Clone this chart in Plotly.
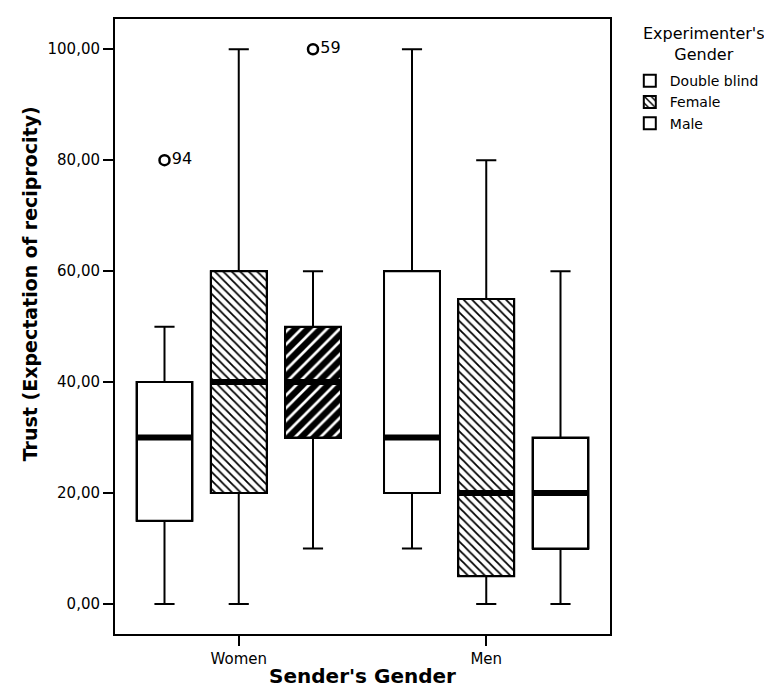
import plotly.graph_objects as go

# ---------------- data ----------------
categories = ["Women", "Men"]
series = ["Double blind", "Female", "Male"]

db_q1 = [15, 20]
db_median = [30, 30]
db_q3 = [40, 60]
db_low = [0, 10]
db_high = [50, 100]

fe_q1 = [20, 5]
fe_median = [40, 20]
fe_q3 = [60, 55]
fe_low = [0, 0]
fe_high = [100, 80]

ma_q1 = [30, 10]
ma_median = [40, 20]
ma_q3 = [50, 30]
ma_low = [10, 0]
ma_high = [60, 60]

outlier_series = ["Double blind", "Male"]
outlier_category = ["Women", "Women"]
outlier_value = [80, 100]
outlier_label = ["94", "59"]

y_tick_values = [0, 20, 40, 60, 80, 100]
y_tick_labels = ["0,00", "20,00", "40,00", "60,00", "80,00", "100,00"]

# ---------------- layout helpers ----------------
FONT = "DejaVu Sans, Liberation Sans, Arial, sans-serif"
offset = {"Double blind": -0.3, "Female": 0.0, "Male": 0.3}
box_w = 0.226
cat_index = {c: i for i, c in enumerate(categories)}

stats = {
    "Double blind": (db_q1, db_median, db_q3, db_low, db_high),
    "Female": (fe_q1, fe_median, fe_q3, fe_low, fe_high),
    "Male": (ma_q1, ma_median, ma_q3, ma_low, ma_high),
}

def xs(s):
    return [cat_index[c] + offset[s] for c in categories]

fig = go.Figure()

# fills (bars underneath boxes)
q1, med, q3, lo, hi = stats["Double blind"]
fig.add_trace(go.Bar(
    x=xs("Double blind"), base=q1, y=[b - a for a, b in zip(q1, q3)], width=box_w,
    name="Double blind", marker=dict(color="white", line=dict(color="black", width=2)),
    showlegend=True, hoverinfo="skip"))
q1, med, q3, lo, hi = stats["Female"]
fig.add_trace(go.Bar(
    x=xs("Female"), base=q1, y=[b - a for a, b in zip(q1, q3)], width=box_w,
    name="Female",
    marker=dict(color="white", line=dict(color="black", width=2),
                pattern=dict(shape="\\", fgcolor="black", bgcolor="white",
                             size=6, solidity=0.3, fillmode="replace")),
    showlegend=True, hoverinfo="skip"))
q1, med, q3, lo, hi = stats["Male"]
mx = xs("Male")
fig.add_trace(go.Bar(
    x=[mx[1]], base=[q1[1]], y=[q3[1] - q1[1]], width=box_w,
    name="Male", marker=dict(color="white", line=dict(color="black", width=2)),
    showlegend=True, hoverinfo="skip"))
fig.add_trace(go.Bar(
    x=[mx[0]], base=[q1[0]], y=[q3[0] - q1[0]], width=box_w,
    name="Male", marker=dict(color="black", line=dict(color="black", width=2),
                             pattern=dict(shape="/", fgcolor="white", bgcolor="black",
                                          size=9, solidity=0.3, fillmode="replace")),
    showlegend=False, hoverinfo="skip"))

# box & whiskers
for s in series:
    q1, med, q3, lo, hi = stats[s]
    fig.add_trace(go.Box(
        x=xs(s), q1=q1, median=med, q3=q3, lowerfence=lo, upperfence=hi,
        width=box_w, whiskerwidth=0.36, fillcolor="rgba(0,0,0,0)",
        line=dict(color="black", width=2), showlegend=False, hoverinfo="skip",
        boxpoints=False))

# thick medians
mxs, mys = [], []
for s in series:
    q1, med, q3, lo, hi = stats[s]
    for xc, m in zip(xs(s), med):
        mxs += [xc - box_w / 2, xc + box_w / 2, None]
        mys += [m, m, None]
fig.add_trace(go.Scatter(x=mxs, y=mys, mode="lines",
                         line=dict(color="black", width=6),
                         showlegend=False, hoverinfo="skip"))

# outliers
fig.add_trace(go.Scatter(
    x=[cat_index[c] + offset[s] for s, c in zip(outlier_series, outlier_category)],
    y=outlier_value, mode="markers+text", text=outlier_label,
    textposition="middle right",
    textfont=dict(family=FONT, size=16, color="black"),
    marker=dict(symbol="circle-open", size=10, color="black", line=dict(width=2.5, color="black")),
    showlegend=False, hoverinfo="skip", cliponaxis=False))

# legend title (centred, two lines)
fig.add_annotation(
    xref="paper", yref="paper", x=1.19, y=0.995, xanchor="center", yanchor="top",
    text="Experimenter's<br>Gender", showarrow=False, align="center",
    font=dict(family=FONT, size=16, color="black"))

# y axis title
fig.add_annotation(
    xref="paper", yref="paper", x=-0.17, y=0.57, xanchor="center", yanchor="middle",
    textangle=-90, text="<b>Trust (Expectation of reciprocity)</b>", showarrow=False,
    font=dict(family=FONT, size=19, color="black"))

fig.update_layout(
    width=772, height=689,
    margin=dict(l=107, r=170, t=9, b=63),
    paper_bgcolor="white", plot_bgcolor="white",
    barmode="overlay", bargap=0,
    font=dict(family=FONT, color="black", size=14),
    legend=dict(
        x=1.04, y=0.925, xanchor="left", yanchor="top",
        font=dict(family=FONT, size=14, color="black"),
        bgcolor="rgba(0,0,0,0)", itemwidth=30, tracegroupgap=0,
    ),
    xaxis=dict(
        range=[-0.5, 1.5], tickmode="array", tickvals=[0, 1], ticktext=categories,
        showline=True, linecolor="black", linewidth=2, mirror=True,
        ticks="outside", ticklen=10, tickwidth=2, tickcolor="black",
        showgrid=False, zeroline=False,
        tickfont=dict(family=FONT, size=15, color="black"),
        title=dict(text="<b>Sender's Gender</b>", standoff=2,
                   font=dict(family=FONT, size=20, color="black")),
    ),
    yaxis=dict(
        range=[-5.4, 105.45], tickmode="array", tickvals=y_tick_values, ticktext=y_tick_labels,
        showline=True, linecolor="black", linewidth=2, mirror=True,
        ticks="outside", ticklen=10, tickwidth=2, tickcolor="black",
        showgrid=False, zeroline=False,
        tickfont=dict(family=FONT, size=15, color="black"),
    ),
)

fig.write_html("out.html")
